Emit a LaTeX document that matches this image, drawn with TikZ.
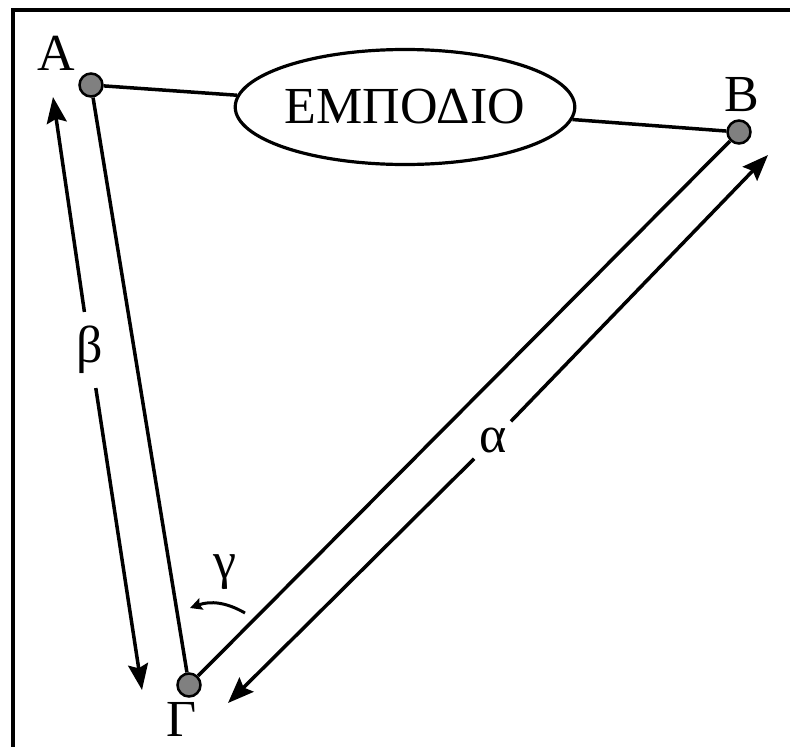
\documentclass[tikz,border=0pt]{standalone}
\usepackage{fontspec}
\setmainfont{Liberation Serif}
\usepackage{tikz}
\usetikzlibrary{arrows.meta, shapes.geometric}
\definecolor{mydark}{RGB}{0,0,0}
\definecolor{mygrey}{RGB}{128,128,128}
\tikzset{
  vertex/.style={circle, draw=mydark, fill=mygrey,
    minimum size=23pt, inner sep=0pt, line width=2.5pt},
  lbl/.style={font=\fontsize{52}{62}\selectfont, inner sep=2pt},
  obstacle/.style={ellipse, draw=mydark, line width=3.2pt,
    minimum width=324pt, minimum height=115pt, inner sep=0pt,
    font=\fontsize{52}{62}\selectfont},
  side/.style={line width=3.5pt, color=mydark},
  dimarrow/.style={-{Stealth[length=26pt, width=20pt, inset=4pt]},
    line width=3.5pt, color=mydark},
  anglearrow/.style={-{Stealth[length=12pt, width=12pt, inset=2pt]},
    line width=3pt, color=mydark}
}

\begin{document}
\begin{tikzpicture}[x=1pt, y=-1pt]
  \useasboundingbox (0,0) rectangle (790,747);
  \draw[line width=4pt, color=mydark] (13,747) -- (13,10) -- (790,10);

  % points of the triangle
  \node[vertex] (A) at (91,85) {};
  \node[vertex] (B) at (739,132) {};
  \node[vertex] (G) at (189,685) {};
  \node[lbl] (Alab) at (56,53) {Α};
  \node[lbl] (Blab) at (742,95) {Β};
  \node[lbl] (Glab) at (182,719) {Γ};

  \node[obstacle] (obst) at (405,107) {ΕΜΠΟΔΙΟ};

  \draw[side] (A) -- (obst);
  \draw[side] (obst) -- (B);
  \draw[side] (A) -- (G);
  \draw[side] (G) -- (B);

  % side beta
  \coordinate (b1) at (53,97);
  \coordinate (b2) at (142,690);
  \node[lbl, inner sep=14pt] (beta) at (90,350) {β};
  \draw[dimarrow] (beta) -- (b1);
  \draw[dimarrow] (beta) -- (b2);

  % side alpha
  \coordinate (a1) at (768,155);
  \coordinate (a2) at (228,703);
  \node[lbl, inner sep=6pt] (alpha) at (493,440) {α};
  \draw[dimarrow] (alpha) -- (a1);
  \draw[dimarrow] (alpha) -- (a2);

  % angle gamma
  \coordinate (g1) at (245,613);
  \coordinate (g2) at (190,608);
  \node[lbl] (gamma) at (225,572) {γ};
  \draw[anglearrow] (g1) to[bend right=25] (g2);
\end{tikzpicture}
\end{document}
